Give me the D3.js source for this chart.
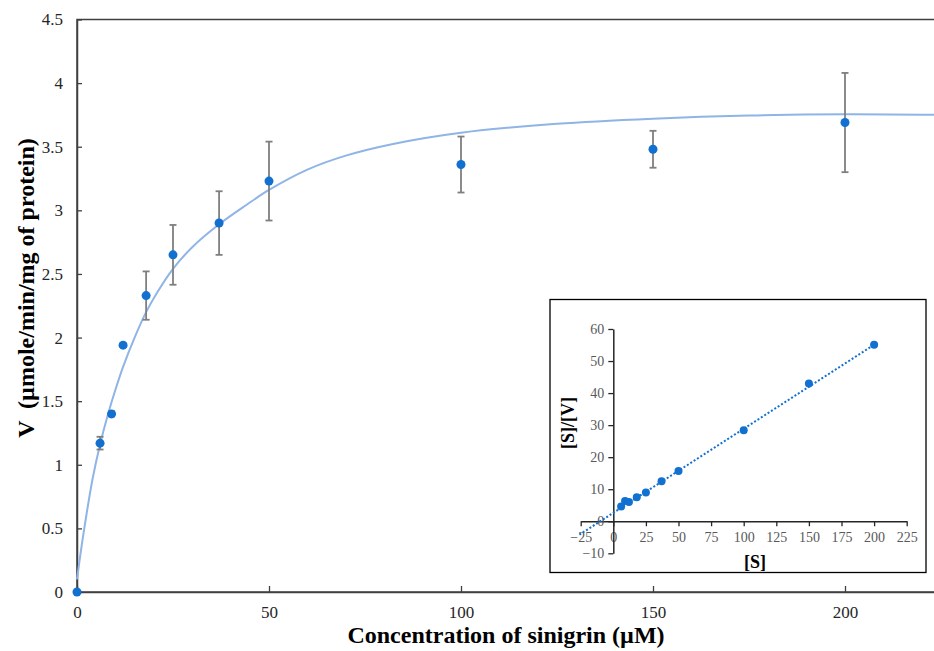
<!DOCTYPE html>
<html>
<head>
<meta charset="utf-8">
<script src="https://cdn.jsdelivr.net/npm/d3@7"></script>
<style>
    body { margin: 0; background: #fff; }
</style>
</head>
<body>
<div id="grafico"></div>
<script>
// Datos del gráfico principal
const concentraciones = [0, 6, 9, 12, 18, 25, 37, 50, 100, 150, 200];
const velocidades = [0, 1.17, 1.40, 1.94, 2.33, 2.65, 2.90, 3.23, 3.36, 3.48, 3.69];
const errores = [0, 0.05, 0.02, 0.015, 0.19, 0.235, 0.25, 0.31, 0.22, 0.145, 0.39];

// Curva ajustada, puntos
const curvaS = [0, 1, 2, 4, 6, 8, 10, 12, 15, 18, 21, 25, 30, 37, 44, 50, 60, 70, 82, 100, 125, 150, 175, 200, 225];
const curvaV = [0.10, 0.32, 0.52, 0.88, 1.16, 1.39, 1.59, 1.77, 2.00, 2.20, 2.36, 2.54, 2.71, 2.89, 3.04, 3.16, 3.32, 3.43, 3.52, 3.61, 3.68, 3.72, 3.745, 3.755, 3.75];

const ticksX = [0, 50, 100, 150, 200];
const ticksY = [0, 0.5, 1, 1.5, 2, 2.5, 3, 3.5, 4, 4.5];

// Datos del recuadro (Hanes-Woolf)
const sRecuadro = [6, 9, 12, 18, 25, 37, 50, 100, 150, 200];
const sSobreV = [4.6, 6.3, 6.0, 7.5, 9.0, 12.5, 15.7, 28.4, 43.0, 55.1];
const tendenciaS = [-26, 200];
const tendenciaY = [-4.2, 55.1];
const ticksXRecuadro = [-25, 0, 25, 50, 75, 100, 125, 150, 175, 200, 225];
const ticksYRecuadro = [-10, 0, 10, 20, 30, 40, 50, 60];

const azul = '#1170d0';
const fuente = 'Liberation Serif';
const width = 934, height = 651;

const svg = d3.select('#grafico').append('svg')
    .attr('width', width)
    .attr('height', height);

// Escalas principales
const x = d3.scaleLinear().domain([0, 225]).range([77, 941]);
const y = d3.scaleLinear().domain([0, 4.5]).range([592, 19.5]);

// Marco del área de trazado
svg.append('rect')
    .attr('x', x(0)).attr('y', y(4.5))
    .attr('width', x(225) - x(0)).attr('height', y(0) - y(4.5))
    .attr('fill', 'none').attr('stroke', '#404040').attr('stroke-width', 1.5);

// Eje X (marcas hacia dentro)
const ejeX = svg.append('g')
    .attr('transform', `translate(0,${y(0)})`)
    .call(d3.axisBottom(x).tickValues(ticksX).tickSizeInner(-6).tickSizeOuter(0).tickPadding(14));
// Eje Y
const ejeY = svg.append('g')
    .attr('transform', `translate(${x(0)},0)`)
    .call(d3.axisLeft(y).tickValues(ticksY).tickFormat(d3.format('~g')).tickSizeInner(-5).tickSizeOuter(0).tickPadding(14));

[ejeX, ejeY].forEach(eje => {
    eje.attr('font-family', null);
    eje.select('.domain').attr('stroke', '#404040').attr('stroke-width', 1.5);
    eje.selectAll('.tick line').attr('stroke', '#404040').attr('stroke-width', 1.3);
    eje.selectAll('.tick text').attr('font-size', 17).attr('fill', '#262626')
        .style('font-family', fuente);
});

// Curva ajustada
const linea = d3.line()
    .x((d, i) => x(curvaS[i]))
    .y((d, i) => y(curvaV[i]))
    .curve(d3.curveCatmullRom.alpha(0.5));

svg.append('path')
    .datum(curvaS)
    .attr('d', linea)
    .attr('fill', 'none')
    .attr('stroke', '#8fb4e6')
    .attr('stroke-width', 2);

// Barras de error
const puntos = concentraciones.map((c, i) => ({ c, v: velocidades[i], e: errores[i] }));
const barras = svg.append('g').selectAll('g')
    .data(puntos.filter(d => d.e > 0))
    .enter().append('g')
    .attr('stroke', '#7f7f7f').attr('stroke-width', 1.8);
barras.append('line')
    .attr('x1', d => x(d.c)).attr('x2', d => x(d.c))
    .attr('y1', d => y(d.v + d.e)).attr('y2', d => y(d.v - d.e));
barras.append('line')
    .attr('x1', d => x(d.c) - 3.5).attr('x2', d => x(d.c) + 3.5)
    .attr('y1', d => y(d.v + d.e)).attr('y2', d => y(d.v + d.e));
barras.append('line')
    .attr('x1', d => x(d.c) - 3.5).attr('x2', d => x(d.c) + 3.5)
    .attr('y1', d => y(d.v - d.e)).attr('y2', d => y(d.v - d.e));

// Puntos
svg.append('g').selectAll('circle')
    .data(puntos)
    .enter().append('circle')
    .attr('cx', d => x(d.c))
    .attr('cy', d => y(d.v))
    .attr('r', 4.5)
    .attr('fill', azul);

// Títulos de ejes
svg.append('text')
    .attr('x', 506).attr('y', 643)
    .attr('text-anchor', 'middle')
    .attr('font-size', 24).attr('font-weight', 'bold')
    .style('font-family', fuente)
    .text('Concentration of sinigrin (µM)');

svg.append('text')
    .attr('transform', 'translate(34,288) rotate(-90)')
    .attr('text-anchor', 'middle')
    .attr('font-size', 24).attr('font-weight', 'bold')
    .style('font-family', fuente)
    .style('white-space', 'pre')
    .text('V  (µmole/min/mg of protein)');

// ---- Recuadro ----
svg.append('rect')
    .attr('x', 550).attr('y', 299.5)
    .attr('width', 376).attr('height', 273)
    .attr('fill', '#fff').attr('stroke', '#000').attr('stroke-width', 1.3);

const xr = d3.scaleLinear().domain([-25, 225]).range([580.7, 906.7]);
const yr = d3.scaleLinear().domain([-10, 60]).range([553.3, 329]);

const ejeXr = svg.append('g')
    .attr('transform', `translate(0,${yr(0)})`)
    .call(d3.axisBottom(xr).tickValues(ticksXRecuadro).tickSize(5).tickSizeOuter(0).tickPadding(6));
const ejeYr = svg.append('g')
    .attr('transform', `translate(${xr(0)},0)`)
    .call(d3.axisLeft(yr).tickValues(ticksYRecuadro).tickSize(5).tickSizeOuter(0).tickPadding(4));

[ejeXr, ejeYr].forEach(eje => {
    eje.attr('font-family', null);
    eje.select('.domain').attr('stroke', '#262626').attr('stroke-width', 1.5);
    eje.selectAll('.tick line').attr('stroke', '#262626').attr('stroke-width', 1.3);
    eje.selectAll('.tick text').attr('font-size', 14).attr('fill', '#595959')
        .style('font-family', fuente);
});

// Línea de tendencia punteada
svg.append('line')
    .attr('x1', xr(tendenciaS[0])).attr('y1', yr(tendenciaY[0]))
    .attr('x2', xr(tendenciaS[1])).attr('y2', yr(tendenciaY[1]))
    .attr('stroke', azul).attr('stroke-width', 2)
    .attr('stroke-dasharray', '2,2');

svg.append('g').selectAll('circle')
    .data(sRecuadro)
    .enter().append('circle')
    .attr('cx', d => xr(d))
    .attr('cy', (d, i) => yr(sSobreV[i]))
    .attr('r', 4)
    .attr('fill', azul);

svg.append('text')
    .attr('x', 755).attr('y', 568)
    .attr('text-anchor', 'middle')
    .attr('font-size', 18).attr('font-weight', 'bold')
    .style('font-family', fuente)
    .text('[S]');

svg.append('text')
    .attr('transform', 'translate(574,423) rotate(-90)')
    .attr('text-anchor', 'middle')
    .attr('font-size', 18).attr('font-weight', 'bold')
    .style('font-family', fuente)
    .text('[S]/[V]');
</script>
</body>
</html>
